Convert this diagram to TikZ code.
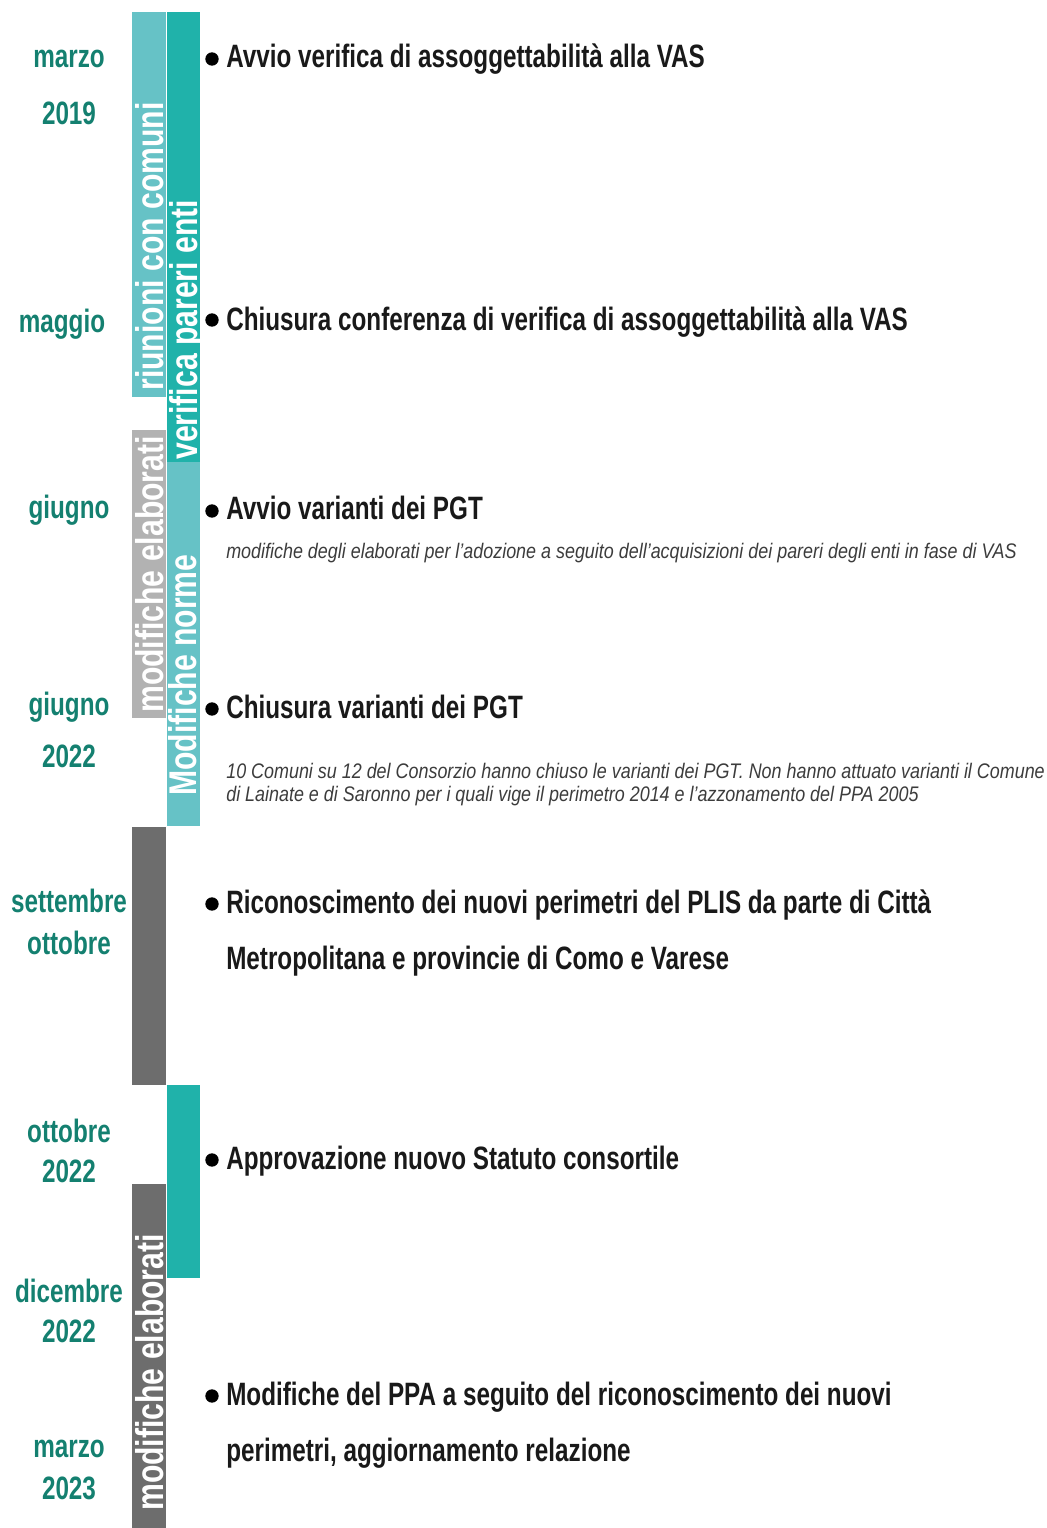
\documentclass[tikz,border=0pt]{standalone}
\usepackage{fontspec}
\setmainfont{Liberation Sans}
\newfontfamily\narrowfont{Liberation Sans}[FakeStretch=0.75]
\newfontfamily\barfont{Liberation Sans}[FakeStretch=0.78]
\newfontfamily\notefont{Liberation Sans}[FakeStretch=0.85]
\usepackage{xcolor}
\definecolor{datecol}{RGB}{20,128,112}
\definecolor{tealbar}{RGB}{32,178,170}
\definecolor{lightteal}{RGB}{102,194,198}
\definecolor{greybar}{RGB}{178,178,178}
\definecolor{darkbar}{RGB}{109,109,109}
\definecolor{notegrey}{RGB}{60,60,60}

\tikzset{
  datelabel/.style={anchor=base, text=datecol, inner sep=0pt,
    font=\narrowfont\bfseries\fontsize{23}{27}\selectfont},
  eventtext/.style={anchor=base west, text=black!90, inner sep=0pt,
    font=\narrowfont\bfseries\fontsize{23}{27}\selectfont},
  notetext/.style={anchor=base west, text=notegrey, inner sep=0pt,
    font=\notefont\itshape\fontsize{15}{18}\selectfont},
  bartext/.style={anchor=base west, rotate=90, text=white, inner sep=0pt,
    font=\barfont\bfseries\fontsize{27.5}{30}\selectfont},
  eventdot/.style={circle, fill=black, inner sep=0pt, minimum size=9.5pt},
}

\begin{document}
\begin{tikzpicture}[x=0.025cm, y=-0.025cm]
  \useasboundingbox (0,0) rectangle (1047,1528);
  % Phase bars, left column
  \fill[lightteal] (132,12) rectangle (166,397);
  \fill[greybar] (132,430) rectangle (166,718);
  \fill[darkbar] (132,827) rectangle (166,1085);
  \fill[darkbar] (132,1184) rectangle (166,1528);
  % Phase bars, right column
  \fill[tealbar] (166.5,12) rectangle (200,462);
  \fill[lightteal] (166.5,462) rectangle (200,826);
  \fill[tealbar] (166.5,1085) rectangle (200,1278);
  % Bar labels
  \node[bartext] (riunioni) at (163,391) {riunioni con comuni};
  \node[bartext] (pareri) at (197,460) {verifica pareri enti};
  \node[bartext] (elaborati) at (163,713) {modifiche elaborati};
  \node[bartext] (norme) at (196,796) {Modifiche norme};
  \node[bartext] (elaboratiB) at (163,1511) {modifiche elaborati};
  % Dates
  \node[datelabel] (marzoA) at (69,67) {marzo};
  \node[datelabel] (annoA) at (69,124) {2019};
  \node[datelabel] (maggio) at (62,332) {maggio};
  \node[datelabel] (giugnoA) at (69,518) {giugno};
  \node[datelabel] (giugnoB) at (69,715) {giugno};
  \node[datelabel] (annoB) at (69,767) {2022};
  \node[datelabel] (settembre) at (69,912) {settembre};
  \node[datelabel] (ottobreA) at (69,954) {ottobre};
  \node[datelabel] (ottobreB) at (69,1142) {ottobre};
  \node[datelabel] (annoC) at (69,1182) {2022};
  \node[datelabel] (dicembre) at (69,1302) {dicembre};
  \node[datelabel] (annoD) at (69,1342) {2022};
  \node[datelabel] (marzoB) at (69,1457) {marzo};
  \node[datelabel] (annoE) at (69,1499) {2023};
  % Events
  \node[eventdot] (dotA) at (212,59) {};
  \node[eventtext] (avvioVas) at (226,67) {Avvio verifica di assoggettabilità alla VAS};
  \node[eventdot] (dotB) at (212,320) {};
  \node[eventtext] (chiusuraVas) at (226,330) {Chiusura conferenza di verifica di assoggettabilità alla VAS};
  \node[eventdot] (dotC) at (212,511) {};
  \node[eventtext] (avvioPgt) at (226,519) {Avvio varianti dei PGT};
  \node[notetext] (notaA) at (226,558) {modifiche degli elaborati per l’adozione a seguito dell’acquisizioni dei pareri degli enti in fase di VAS};
  \node[eventdot] (dotD) at (212,709) {};
  \node[eventtext] (chiusuraPgt) at (226,718) {Chiusura varianti dei PGT};
  \node[notetext] (notaB) at (226,778) {10 Comuni su 12 del Consorzio hanno chiuso le varianti dei PGT. Non hanno attuato varianti il Comune};
  \node[notetext] (notaC) at (226,801) {di Lainate e di Saronno per i quali vige il perimetro 2014 e l’azzonamento del PPA 2005};
  \node[eventdot] (dotE) at (212,904) {};
  \node[eventtext] (plisA) at (226,913) {Riconoscimento dei nuovi perimetri del PLIS da parte di Città};
  \node[eventtext] (plisB) at (226,969) {Metropolitana e provincie di Como e Varese};
  \node[eventdot] (dotF) at (212,1160) {};
  \node[eventtext] (statuto) at (226,1169) {Approvazione nuovo Statuto consortile};
  \node[eventdot] (dotG) at (212,1396) {};
  \node[eventtext] (ppaA) at (226,1405) {Modifiche del PPA a seguito del riconoscimento dei nuovi};
  \node[eventtext] (ppaB) at (226,1461) {perimetri, aggiornamento relazione};
\end{tikzpicture}
\end{document}
